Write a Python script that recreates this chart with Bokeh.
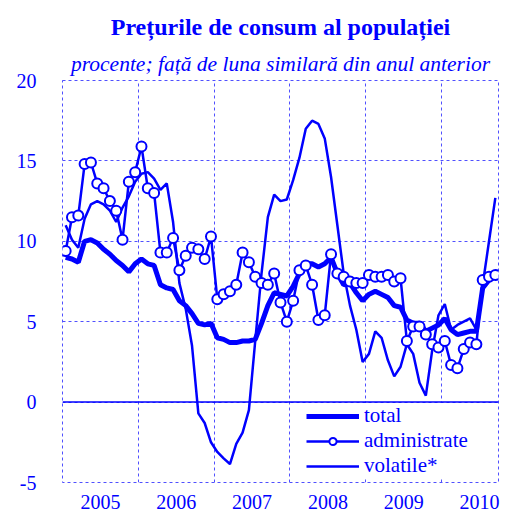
from bokeh.plotting import figure
from bokeh.models import FixedTicker, Span, Legend, LegendItem, Title, Range1d
from bokeh.embed import file_html
from bokeh.resources import INLINE

# Monthly data, Jan 2005 .. Sep 2010 (annual % change)
months = [2005 + (i + 0.5) / 12 for i in range(69)]

total = [
    9.0, 8.9, 8.7, 10.0, 10.1, 9.9, 9.5, 9.2, 8.8, 8.5, 8.1, 8.6,
    8.9, 8.6, 8.5, 7.3, 7.1, 7.0, 6.3, 6.0, 5.5, 4.9, 4.8, 4.9,
    4.0, 3.9, 3.7, 3.7, 3.8, 3.8, 3.9, 4.9, 6.0, 6.8, 6.7, 6.6,
    7.2, 8.0, 8.6, 8.6, 8.4, 8.6, 9.0, 8.0, 7.3, 7.4, 6.8, 6.3,
    6.7, 6.9, 6.7, 6.5, 6.0, 5.9, 5.1, 4.9, 4.9, 4.4, 4.6, 4.8,
    5.2, 4.5, 4.2, 4.3, 4.4, 4.4, 7.1, 7.6, 7.8,
]

administrate = [
    9.4, 11.5, 11.6, 14.8, 14.9, 13.6, 13.3, 12.5, 11.9, 10.1, 13.7, 14.3,
    15.9, 13.3, 13.0, 9.3, 9.3, 10.2, 8.2, 9.1, 9.6, 9.5, 8.9, 10.3,
    6.4, 6.7, 6.9, 7.3, 9.3, 8.7, 7.8, 7.4, 7.3, 8.0, 6.2, 5.0,
    6.3, 8.2, 8.5, 7.3, 5.1, 5.4, 9.2, 8.0, 7.8, 7.5, 7.4, 7.4,
    7.9, 7.8, 7.8, 7.9, 7.5, 7.7, 3.8, 4.7, 4.7, 4.2, 3.6, 3.4,
    3.8, 2.3, 2.1, 3.3, 3.7, 3.6, 7.6, 7.8, 7.9,
]

volatile = [
    11.0, 10.1, 9.6, 11.4, 12.3, 12.5, 12.3, 11.9, 11.2, 12.1, 12.8, 13.7,
    14.2, 14.3, 13.9, 13.2, 13.6, 11.2, 7.4, 5.8, 3.5, -0.7, -1.3, -2.5,
    -3.1, -3.5, -3.85, -2.6, -1.9, -0.5, 3.8, 8.0, 11.5, 12.9, 12.5, 12.6,
    13.8, 15.2, 17.0, 17.5, 17.3, 16.4, 14.0, 11.0, 8.0, 6.0, 4.5, 2.5,
    3.0, 4.4, 4.0, 2.6, 1.6, 2.2, 3.6, 3.0, 1.2, 0.4, 3.2, 5.4,
    6.1, 4.5, 4.8, 5.0, 5.2, 4.5, 7.3, 10.0, 12.7,
]

year_ticks = [2005.5, 2006.5, 2007.5, 2008.5, 2009.5, 2010.5]
year_labels = ["2005", "2006", "2007", "2008", "2009", "2010"]
year_bounds = [2006, 2007, 2008, 2009, 2010]
y_ticks = [-5, 0, 5, 10, 15, 20]
y_labels = ["-5", "0", "5", "10", "15", "20"]

BLUE = "#0000FF"
GRID = "#5050FF"
FONT = "Liberation Serif"

p = figure(width=503, height=512, output_backend="svg", toolbar_location=None,
           x_range=Range1d(2005, 2010.75), y_range=Range1d(-5, 20),
           min_border_left=62, min_border_right=5, min_border_top=80,
           min_border_bottom=30,
           title="Prețurile de consum al populației")

p.title.text_font = FONT
p.title.text_font_style = "bold"
p.title.text_font_size = "24px"
p.title.text_color = BLUE
p.title.align = "center"
sub_title = Title(text="procente; față de luna similară din anul anterior",
                  text_font=FONT, text_font_style="italic",
                  text_font_size="21.5px", text_color=BLUE, align="center")
p.add_layout(sub_title, "above")

p.background_fill_color = "white"
p.border_fill_color = "white"
p.outline_line_color = GRID
p.outline_line_dash = "3 3"
p.outline_line_width = 1

# axes
p.xaxis.ticker = FixedTicker(ticks=year_ticks)
p.xaxis.major_label_overrides = {t: l for t, l in zip(year_ticks, year_labels)}
p.yaxis.ticker = FixedTicker(ticks=y_ticks)
p.yaxis.major_label_overrides = {t: l for t, l in zip(y_ticks, y_labels)}
for ax in (p.xaxis[0], p.yaxis[0]):
    ax.axis_line_color = None
    ax.major_tick_line_color = None
    ax.minor_tick_line_color = None
    ax.major_label_text_font = FONT
    ax.major_label_text_font_size = "20px"
    ax.major_label_text_color = BLUE
p.xaxis.major_label_standoff = 6
p.yaxis.major_label_standoff = 20

p.xgrid.ticker = FixedTicker(ticks=year_bounds)
for g in (p.xgrid[0], p.ygrid[0]):
    g.grid_line_color = GRID
    g.grid_line_dash = "3 3"
    g.grid_line_width = 1

r_total = p.line(months, total, line_color=BLUE, line_width=5)
r_vol = p.line(months, volatile, line_color=BLUE, line_width=2.5)
r_adm_l = p.line(months, administrate, line_color=BLUE, line_width=2.5)
r_adm_m = p.scatter(months, administrate, size=10, marker="circle",
                    line_color=BLUE, line_width=2, fill_color="white")

legend = Legend(items=[
    LegendItem(label="total", renderers=[r_total]),
    LegendItem(label="administrate", renderers=[r_adm_l, r_adm_m]),
    LegendItem(label="volatile*", renderers=[r_vol]),
], location=(244, 4))
legend.label_text_font = FONT
legend.label_text_font_size = "21px"
legend.label_text_line_height = 0.9
legend.label_text_color = BLUE
legend.glyph_width = 53
legend.glyph_height = 18
legend.label_height = 18
legend.spacing = 0
legend.padding = 0
legend.margin = 0
legend.label_standoff = 5
legend.border_line_color = None
legend.background_fill_color = "white"
legend.background_fill_alpha = 1.0
p.add_layout(legend, "center")

p.add_layout(Span(location=0, dimension="width", line_color=BLUE, line_width=1.5))

open("out.html", "w").write(file_html(p, INLINE))
